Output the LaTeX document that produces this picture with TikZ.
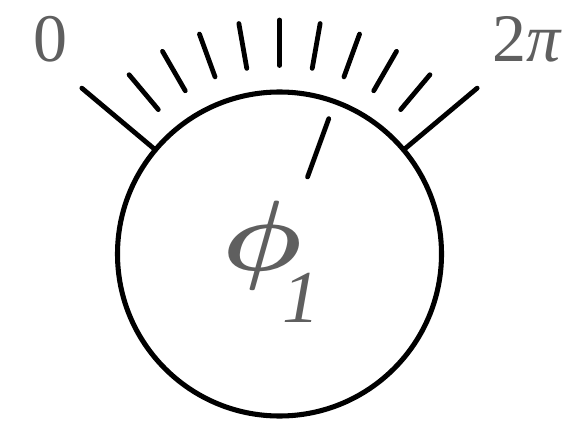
\documentclass[tikz,border=0pt]{standalone}
\usepackage{fontspec}
\setmainfont{Liberation Serif}
\newfontfamily\timesfont{Liberation Serif}
\definecolor{labelgray}{RGB}{95,95,95}
\begin{document}
\begin{tikzpicture}[x=0.75pt,y=0.75pt,
  dialline/.style={line width=3.6pt,line cap=round,black},
  scalelabel/.style={text=labelgray,font=\timesfont\fontsize{51}{51}\selectfont,inner sep=0pt,anchor=base},
  philabel/.style={text=labelgray,inner sep=0pt,anchor=base west}]
\useasboundingbox (0,0) rectangle (563,425);
\coordinate (c) at (279.5,171);
\node[draw,circle,line width=3.8pt,minimum size=243pt,inner sep=0pt] (dial) at (c) {};
% short ticks
\foreach \a in {50,60,...,130}
  \draw[dialline] ([shift={(\a:188.5)}]c) -- ([shift={(\a:234)}]c);
% end ticks
\coordinate (l0) at ([shift={(140:258)}]c);
\coordinate (r0) at ([shift={(40:258)}]c);
\draw[dialline] (dial.140) -- (l0);
\draw[dialline] (dial.40) -- (r0);
% needle
\draw[dialline] ([shift={(70:82)}]c) -- ([shift={(70:144)}]c);
% labels
\node[scalelabel] (zero) at (50,363) {0};
\node[scalelabel] (twopi) at (527,363) {2{\itshape π}};
\node[philabel] (phi) at (222,155)
  {\makebox[0pt][l]{\hspace*{45pt}\raisebox{-39pt}{\timesfont\fontsize{56}{56}\selectfont\itshape 1}}\scalebox{8.4}[7.5]{\boldmath$\phi$}};
\end{tikzpicture}
\end{document}
